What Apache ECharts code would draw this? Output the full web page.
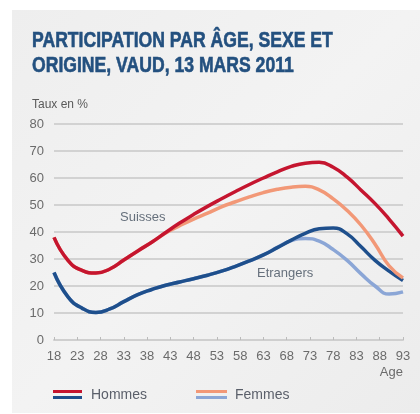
<!DOCTYPE html>
<html><head><meta charset="utf-8">
<script src="https://cdn.jsdelivr.net/npm/echarts@6/dist/echarts.min.js"></script>
<style>html,body{margin:0;padding:0;background:#fff}#c{width:420px;height:414px}</style>
</head><body><div id="c"></div>
<script>
const ages = [18,21,24,27,30,33,36,39,42,45,48,51,54,57,60,63,66,69,72,75,78,81,84,87,90,93];
const hommesSuisses   = [38,29.5,25.8,24.8,26.3,29.6,33,36.2,39.8,43.3,46.5,49.5,52.3,55,57.6,60,62.3,64.3,65.5,65.8,64,60.3,55.5,50.5,44.8,38.5];
const femmesSuisses   = [38,29.5,25.8,24.8,26.3,29.6,33,36.2,39.6,42.3,44.8,47,49.3,51.2,53,54.6,55.8,56.6,56.9,55.6,52.3,48,42.5,35.5,27.5,23];
const hommesEtrangers = [25,16,11.8,10.2,11.5,14.2,16.8,18.7,20.3,21.5,22.7,24,25.5,27.3,29.3,31.5,34.2,37,39.5,41.2,41.5,39.3,34.5,29.5,25.5,22];
const femmesEtrangers = [25,16,11.8,10.2,11.5,14.2,16.8,18.7,20.3,21.5,22.7,24,25.5,27.3,29.3,31.5,34.3,36.8,37.6,36.6,33.5,29.5,24.5,20,17,17.8];
const xTicks = [18,23,28,33,38,43,48,53,58,63,68,73,78,83,88,93];
const yTicks = [0,10,20,30,40,50,60,70,80];
const titleLines = ['PARTICIPATION PAR ÂGE, SEXE ET','ORIGINE, VAUD, 13 MARS 2011'];
const legendNames = ['Hommes','Femmes'];
const seriesLabels = ['Suisses','Etrangers'];

const C = {red:'#c5152f', salmon:'#f29877', dblue:'#1e4f8c', lblue:'#8ba6d6'};
const font = '"Liberation Sans", Arial, sans-serif';
const chart = echarts.init(document.getElementById('c'), null, {renderer:'canvas'});
function ser(name, vals, color, z){
  return {name, type:'line', data: ages.map((a,i)=>[a, vals[i]]), smooth:true, showSymbol:false, z,
    lineStyle:{color, width:3.5}, itemStyle:{color}};
}
chart.setOption({
  animation:false,
  backgroundColor:'#ffffff',
  grid:{left:54, right:17, top:124, bottom:74},
  xAxis:{type:'value', min:18, max:93, interval:5,
    axisLine:{show:true, lineStyle:{color:'#cfcfcf', width:2}},
    axisTick:{show:true, length:3, inside:true, lineStyle:{color:'#bbbbbb'}},
    splitLine:{show:false},
    axisLabel:{margin:10, fontFamily:font, fontSize:13, color:'#6b6b6b', customValues:xTicks}},
  yAxis:{type:'value', min:yTicks[0], max:yTicks[yTicks.length-1], interval:10,
    axisLine:{show:false}, axisTick:{show:false},
    splitLine:{lineStyle:{color:'#d2d2d2', width:2}},
    axisLabel:{margin:10, fontFamily:font, fontSize:13, color:'#6b6b6b'}},
  series:[
    ser('Femmes Etrangers', femmesEtrangers, C.lblue, 2),
    ser('Hommes Etrangers', hommesEtrangers, C.dblue, 3),
    ser('Femmes Suisses', femmesSuisses, C.salmon, 4),
    ser('Hommes Suisses', hommesSuisses, C.red, 5)
  ],
  graphic:[
    {type:'rect', z:-10, shape:{x:12,y:10,width:408,height:403},
     style:{fill:new echarts.graphic.LinearGradient(0,0,1,1,[{offset:0,color:'#eeeeee'},{offset:0.5,color:'#f3f3f3'},{offset:1,color:'#ececec'}])}},
    {type:'text', x:32, y:30, scaleX:0.8, style:{text:titleLines[0], font:'bold 22px '+font, fill:'#23507f', stroke:'#23507f', lineWidth:0.6}},
    {type:'text', x:32, y:55, scaleX:0.8, style:{text:titleLines[1], font:'bold 22px '+font, fill:'#23507f', stroke:'#23507f', lineWidth:0.6}},
    {type:'text', left:32, top:99, style:{text:'Taux en %', font:'12px '+font, fill:'#5a5a5a'}},
    {type:'text', left:120, top:211, style:{text:seriesLabels[0], font:'13px '+font, fill:'#66707c'}},
    {type:'text', left:257, top:267, style:{text:seriesLabels[1], font:'13px '+font, fill:'#66707c'}},
    {type:'text', right:17, top:366, style:{text:'Age', font:'13px '+font, fill:'#6b6b6b', align:'right'}},
    {type:'rect', shape:{x:53,y:390,width:29,height:3}, style:{fill:C.red}},
    {type:'rect', shape:{x:53,y:396,width:29,height:3}, style:{fill:C.dblue}},
    {type:'text', left:91, top:388, style:{text:legendNames[0], font:'14px '+font, fill:'#5a5f6a'}},
    {type:'rect', shape:{x:196,y:390,width:31,height:3}, style:{fill:C.salmon}},
    {type:'rect', shape:{x:196,y:396,width:31,height:3}, style:{fill:C.lblue}},
    {type:'text', left:235, top:388, style:{text:legendNames[1], font:'14px '+font, fill:'#5a5f6a'}}
  ]
});
</script></body></html>
